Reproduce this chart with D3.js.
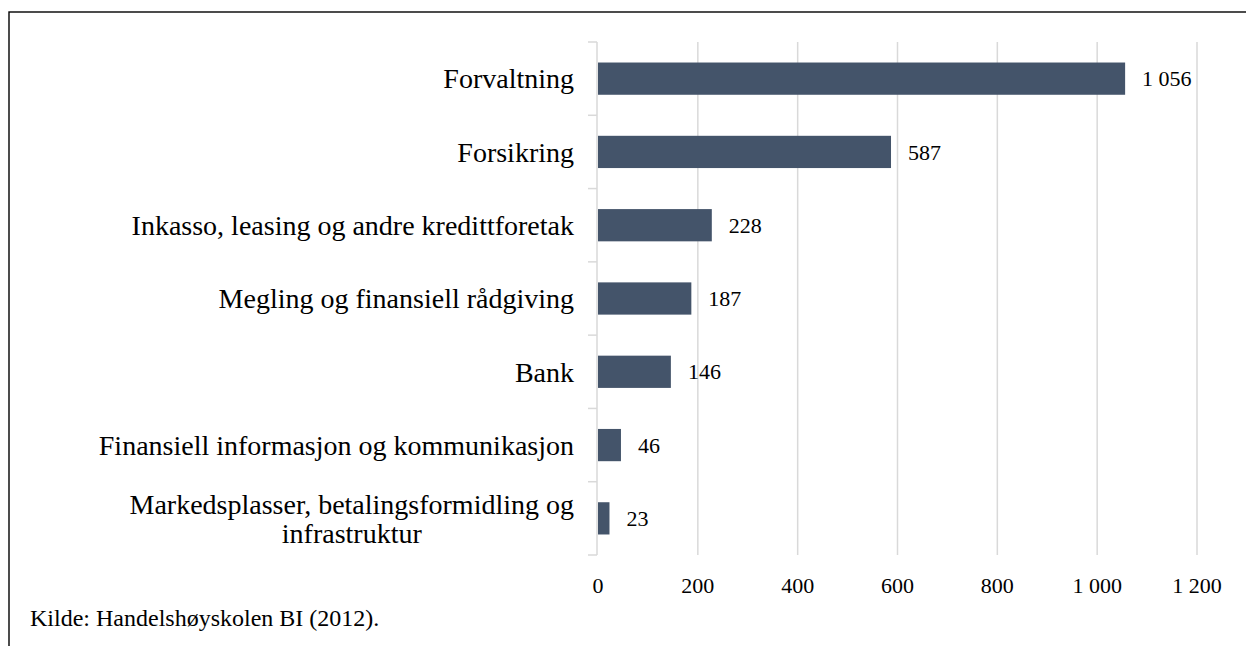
<!DOCTYPE html>
<html>
<head>
<meta charset="utf-8">
<script src="https://cdn.jsdelivr.net/npm/d3@7"></script>
<style>
  html, body { margin: 0; padding: 0; background: #fff; }
  svg { display: block; }
  svg text { font-family: "Liberation Serif", "Times New Roman", serif; }
</style>
</head>
<body>
<div id="chart"></div>
<script>
// Plot constants
const WIDTH = 1246;
const HEIGHT = 646;

// Data
const categories = [
  "Forvaltning",
  "Forsikring",
  "Inkasso, leasing og andre kredittforetak",
  "Megling og finansiell rådgiving",
  "Bank",
  "Finansiell informasjon og kommunikasjon",
  "Markedsplasser, betalingsformidling og|infrastruktur",
];
const values = [1056, 587, 228, 187, 146, 46, 23];
const xTicks = [0, 200, 400, 600, 800, 1000, 1200];
const sourceNote = "Kilde: Handelshøyskolen BI (2012).";

const margin = {top: 42, right: 49, bottom: 91, left: 597};
const barColor = "#44546a";
const gridColor = "#d9d9d9";

const nb = d3.formatLocale({decimal: ",", thousands: "\u00a0", grouping: [3], currency: ["", " kr"]});
const fmt = nb.format(",d");

const svg = d3
  .select("#chart")
  .append("svg")
  .attr("width", WIDTH)
  .attr("height", HEIGHT);

// frame (only top and left edges show)
svg.append("rect")
  .attr("x", 9)
  .attr("y", 12)
  .attr("width", WIDTH + 50)
  .attr("height", HEIGHT + 50)
  .attr("fill", "none")
  .attr("stroke", "#000")
  .attr("stroke-width", 1.4);

const x = d3.scaleLinear()
  .domain([0, 1200])
  .range([margin.left + 1, WIDTH - margin.right]);

const y = d3.scaleBand()
  .domain(categories)
  .range([margin.top, HEIGHT - margin.bottom])
  .paddingInner(0.56)
  .paddingOuter(0.28);

const g = svg.append("g");

// gridlines
g.selectAll("line.grid")
  .data(xTicks.slice(1))
  .enter()
  .append("line")
  .attr("class", "grid")
  .attr("x1", d => x(d))
  .attr("x2", d => x(d))
  .attr("y1", margin.top)
  .attr("y2", HEIGHT - margin.bottom)
  .attr("stroke", gridColor)
  .attr("stroke-width", 1.5);

// category axis line + ticks at band edges
const edges = d3.range(categories.length + 1).map(i => margin.top + i * (HEIGHT - margin.top - margin.bottom) / categories.length);
g.append("line")
  .attr("x1", margin.left)
  .attr("x2", margin.left)
  .attr("y1", margin.top)
  .attr("y2", HEIGHT - margin.bottom)
  .attr("stroke", gridColor)
  .attr("stroke-width", 1.5);
g.selectAll("line.ytick")
  .data(edges)
  .enter()
  .append("line")
  .attr("class", "ytick")
  .attr("x1", margin.left - 9)
  .attr("x2", margin.left)
  .attr("y1", d => d)
  .attr("y2", d => d)
  .attr("stroke", gridColor)
  .attr("stroke-width", 1.5);

// bars
g.selectAll("rect.bar")
  .data(values)
  .enter()
  .append("rect")
  .attr("class", "bar")
  .attr("x", x(0))
  .attr("y", (d, i) => y(categories[i]))
  .attr("width", d => x(d) - x(0))
  .attr("height", y.bandwidth())
  .attr("fill", barColor);

// value labels
g.selectAll("text.val")
  .data(values)
  .enter()
  .append("text")
  .attr("class", "val")
  .attr("x", d => x(d) + 17)
  .attr("y", (d, i) => y(categories[i]) + y.bandwidth() / 2)
  .attr("dy", "0.35em")
  .attr("font-size", "22px")
  .attr("fill", "#000")
  .text(d => fmt(d));

// category labels
const labelRight = margin.left - 23;
categories.forEach(c => {
  const lines = c.split("|");
  const cy = y(c) + y.bandwidth() / 2;
  const lh = 29;
  const t = g.append("text")
    .attr("font-size", "28px")
    .attr("fill", "#000");
  lines.forEach((ln, j) => {
    t.append("tspan")
      .attr("x", labelRight)
      .attr("y", cy + (j - (lines.length - 1) / 2) * lh)
      .attr("dy", "0.35em")
      .text(ln);
  });
  if (lines.length > 1) {
    const w = d3.max(t.selectAll("tspan").nodes(), n => n.getComputedTextLength());
    t.attr("text-anchor", "middle");
    t.selectAll("tspan").attr("x", labelRight - w / 2);
  } else {
    t.attr("text-anchor", "end");
  }
});

// x tick labels
g.selectAll("text.xtick")
  .data(xTicks)
  .enter()
  .append("text")
  .attr("class", "xtick")
  .attr("x", d => x(d))
  .attr("y", 585)
  .attr("dy", "0.35em")
  .attr("text-anchor", "middle")
  .attr("font-size", "22px")
  .text(d => fmt(d));

// source note
svg.append("text")
  .attr("x", 30)
  .attr("y", 618)
  .attr("dy", "0.35em")
  .attr("font-size", "24px")
  .text(sourceNote);
</script>
</body>
</html>
